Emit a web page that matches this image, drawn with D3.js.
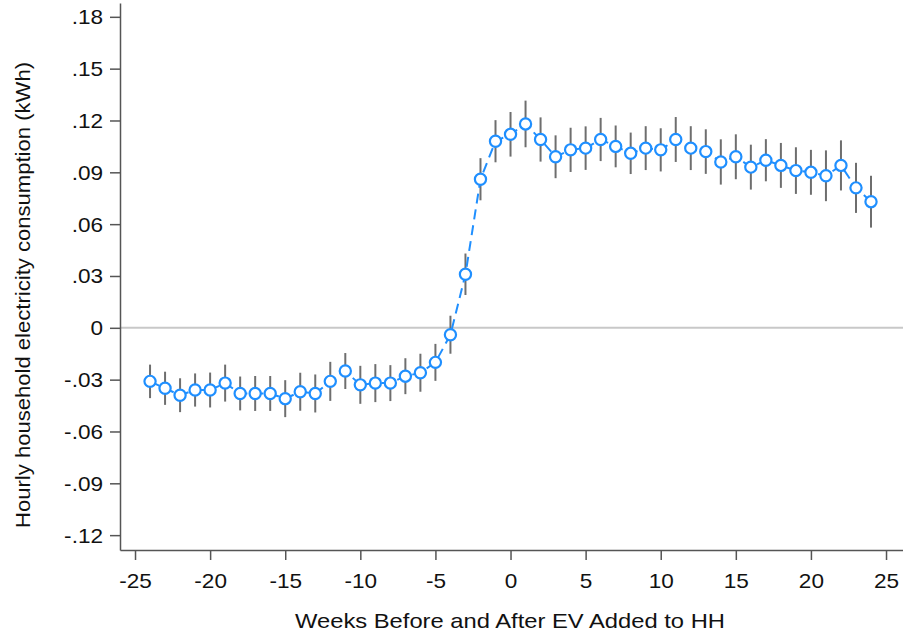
<!DOCTYPE html>
<html lang="en">
<head>
    <meta charset="UTF-8">
    <title>Hourly household electricity consumption around EV adoption</title>
    <script src="https://d3js.org/d3.v7.min.js"></script>
    <style>
        body {
            margin: 0;
            background: #fff;
            font-family: "Liberation Sans", Arial, sans-serif;
        }
        .axis text {
            font-size: 20px;
            fill: #111;
        }
        .axis line, .axis path {
            stroke: #555;
            stroke-width: 1.5px;
        }
        .title {
            font-size: 21px;
            fill: #111;
        }
    </style>
</head>
<body>
    <div id="chart"></div>
    <script>
    // Week relative to the EV being added to the household
    const weeks = [-24, -23, -22, -21, -20, -19, -18, -17, -16, -15, -14, -13, -12,
        -11, -10, -9, -8, -7, -6, -5, -4, -3, -2, -1, 0, 1, 2, 3, 4, 5, 6, 7, 8,
        9, 10, 11, 12, 13, 14, 15, 16, 17, 18, 19, 20, 21, 22, 23, 24];

    // point estimates (kWh)
    const estimates = [-0.031, -0.035, -0.039, -0.036, -0.036, -0.032, -0.038, -0.038,
        -0.038, -0.041, -0.037, -0.038, -0.031, -0.025, -0.033, -0.032, -0.032, -0.028,
        -0.026, -0.020, -0.004, 0.031, 0.086, 0.108, 0.112, 0.118, 0.109, 0.099, 0.103,
        0.104, 0.109, 0.105, 0.101, 0.104, 0.103, 0.109, 0.104, 0.102, 0.096, 0.099,
        0.093, 0.097, 0.094, 0.091, 0.090, 0.088, 0.094, 0.081, 0.073];

    // half width of the confidence interval (kWh)
    const ciHalf = [0.0097, 0.0096, 0.0098, 0.0096, 0.0101, 0.0107, 0.0098, 0.0101,
        0.0101, 0.0107, 0.0110, 0.0110, 0.0113, 0.0104, 0.0110, 0.0110, 0.0104, 0.0104,
        0.0110, 0.0107, 0.0110, 0.0120, 0.0122, 0.0122, 0.0129, 0.0135, 0.0128, 0.0124,
        0.0128, 0.0126, 0.0125, 0.0121, 0.0120, 0.0127, 0.0125, 0.0130, 0.0127, 0.0129,
        0.0131, 0.0130, 0.0130, 0.0122, 0.0130, 0.0135, 0.0130, 0.0147, 0.0145, 0.0145,
        0.0150];

    const xTicks = [-25, -20, -15, -10, -5, 0, 5, 10, 15, 20, 25];
    const xTickLabels = ["-25", "-20", "-15", "-10", "-5", "0", "5", "10", "15", "20", "25"];
    const yTicks = [0.18, 0.15, 0.12, 0.09, 0.06, 0.03, 0, -0.03, -0.06, -0.09, -0.12];
    const yTickLabels = [".18", ".15", ".12", ".09", ".06", ".03", "0",
        "-.03", "-.06", "-.09", "-.12"];

    const W = 903, H = 637;
    const blue = "#1f8fff";

    const svg = d3.select("#chart")
        .append("svg")
        .attr("width", W)
        .attr("height", H);

    const x = d3.scaleLinear()
        .domain([-26, 26.13])
        .range([120, 903]);

    const y = d3.scaleLinear()
        .domain([-0.1286, 0.188])
        .range([550, 3]);

    const rows = weeks.map((w, i) => ({ w: w, v: estimates[i], ci: ciHalf[i] }));

    // zero reference line
    svg.append("line")
        .attr("x1", x.range()[0])
        .attr("x2", x.range()[1])
        .attr("y1", y(0))
        .attr("y2", y(0))
        .attr("stroke", "#c8c8c8")
        .attr("stroke-width", 2);

    // axes
    const xAxis = svg.append("g")
        .attr("class", "axis")
        .attr("transform", `translate(0,${y.range()[0]})`)
        .call(d3.axisBottom(x).tickValues(xTicks).tickSize(10).tickSizeOuter(0)
            .tickFormat((d, i) => xTickLabels[i]));
    xAxis.selectAll(".tick text")
        .attr("y", 24)
        .attr("dy", "0.71em")
        .attr("transform", "scale(1.13,1)");

    const yAxis = svg.append("g")
        .attr("class", "axis")
        .attr("transform", `translate(${x.range()[0]},0)`)
        .call(d3.axisLeft(y).tickValues(yTicks).tickSize(10).tickSizeOuter(0)
            .tickFormat((d, i) => yTickLabels[i]));
    yAxis.selectAll(".tick text")
        .attr("x", -15)
        .attr("dy", "0.35em")
        .attr("transform", "scale(1.13,1)");

    // confidence intervals
    svg.append("g")
        .selectAll("line")
        .data(rows)
        .join("line")
        .attr("x1", d => x(d.w))
        .attr("x2", d => x(d.w))
        .attr("y1", d => y(d.v - d.ci))
        .attr("y2", d => y(d.v + d.ci))
        .attr("stroke", "#6e6e6e")
        .attr("stroke-width", 2);

    // connecting line
    svg.append("path")
        .datum(rows)
        .attr("fill", "none")
        .attr("stroke", blue)
        .attr("stroke-width", 2)
        .attr("stroke-dasharray", "10,6")
        .attr("d", d3.line().x(d => x(d.w)).y(d => y(d.v)));

    // markers
    svg.append("g")
        .selectAll("circle")
        .data(rows)
        .join("circle")
        .attr("cx", d => x(d.w))
        .attr("cy", d => y(d.v))
        .attr("r", 5.6)
        .attr("fill", "#fff")
        .attr("stroke", blue)
        .attr("stroke-width", 2.2);

    // axis titles
    svg.append("text")
        .attr("class", "title")
        .attr("x", 510)
        .attr("y", 628)
        .attr("text-anchor", "middle")
        .attr("textLength", 430)
        .attr("lengthAdjust", "spacingAndGlyphs")
        .text("Weeks Before and After EV Added to HH");

    svg.append("text")
        .attr("class", "title")
        .attr("transform", "translate(30,295) rotate(-90)")
        .attr("text-anchor", "middle")
        .attr("textLength", 466)
        .attr("lengthAdjust", "spacingAndGlyphs")
        .text("Hourly household electricity consumption (kWh)");
    </script>
</body>
</html>
